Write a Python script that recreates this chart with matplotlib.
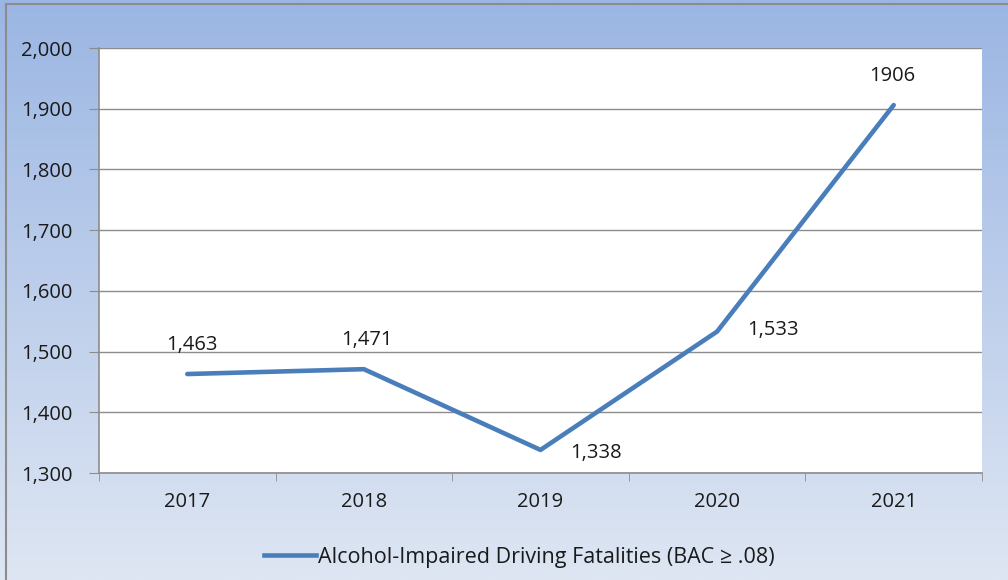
import numpy as np
import matplotlib
matplotlib.use("Agg")
from matplotlib import pyplot as plt
from matplotlib.patches import Rectangle
from matplotlib.lines import Line2D

years = ["2017", "2018", "2019", "2020", "2021"]
fatalities = [1463, 1471, 1338, 1533, 1906]
point_labels = ["1,463", "1,471", "1,338", "1,533", "1906"]
series_name = "Alcohol-Impaired Driving Fatalities (BAC \u2265 .08)"

plt.rcParams['font.family'] = ['Open Sans', 'DejaVu Sans']
FS = 14.5

W, H = 1008, 580
fig = plt.figure(figsize=(W / 100, H / 100), dpi=100)

# gradient background
bg = fig.add_axes([0, 0, 1, 1], zorder=0)
top = np.array([0x9B, 0xB6, 0xE3]) / 255
bot = np.array([0xDE, 0xE6, 0xF3]) / 255
t = np.linspace(0, 1, 256)[:, None]
grad = top * (1 - t) + bot * t
bg.imshow(grad[:, None, :], aspect='auto', extent=[0, 1, 0, 1])
bg.add_patch(Rectangle((6 / W, -0.1), 1.2, 1 - 4 / H + 0.1, fill=False,
                       edgecolor='#8C8C8C', lw=1.5, transform=bg.transAxes))
bg.set_xlim(0, 1)
bg.set_ylim(0, 1)
bg.axis('off')

# plot area
left, right, top_px, bottom_px = 99, 982, 48, 473
ax = fig.add_axes([left / W, 1 - bottom_px / H, (right - left) / W, (bottom_px - top_px) / H], zorder=1)
ax.set_facecolor('white')

x = np.arange(len(years))
ax.plot(x, fatalities, color='#4A7EBB', lw=3.3, solid_capstyle='round', zorder=3)

ax.set_xlim(-0.5, len(years) - 0.5)
ax.set_ylim(1300, 2000)
ax.set_yticks(np.arange(1300, 2001, 100))
ax.set_yticklabels([f"{v:,}" for v in range(1300, 2001, 100)])
ax.set_xticks(x)
ax.set_xticklabels(years)
ax.set_xticks(np.arange(-0.5, len(years)), minor=True)
ax.tick_params(axis='x', which='major', length=0, pad=14, labelsize=FS, colors='#1A1A1A')
ax.tick_params(axis='x', which='minor', length=6, color='#8C8C8C', direction='out')
ax.tick_params(axis='y', length=7, color='#8C8C8C', direction='out', pad=12, labelsize=FS,
               labelcolor='#1A1A1A')
ax.grid(axis='y', color='#8C8C8C', lw=1)
ax.set_axisbelow(True)
for s in ['top', 'right']:
    ax.spines[s].set_visible(False)
for s in ['left', 'bottom']:
    ax.spines[s].set_color('#8C8C8C')
    ax.spines[s].set_linewidth(1.2)

# data labels (offsets in points)
offsets = [(3, 21), (2, 21), (40, -2), (40, 1), (-1, 21)]
for xi, yi, lab, (dx, dy) in zip(x, fatalities, point_labels, offsets):
    ax.annotate(lab, (xi, yi), xytext=(dx, dy), textcoords='offset points',
                ha='center', va='center', fontsize=FS, color='#1A1A1A')

# legend
handle = Line2D([], [], color='#4A7EBB', lw=3.3)
fig.legend([handle], [series_name], loc='center', bbox_to_anchor=(0.515, 1 - 557 / H),
           frameon=False, fontsize=15.5, handlelength=2.4, handletextpad=0.1,
           labelcolor='#1A1A1A')

fig.savefig("out.png", dpi=100)
